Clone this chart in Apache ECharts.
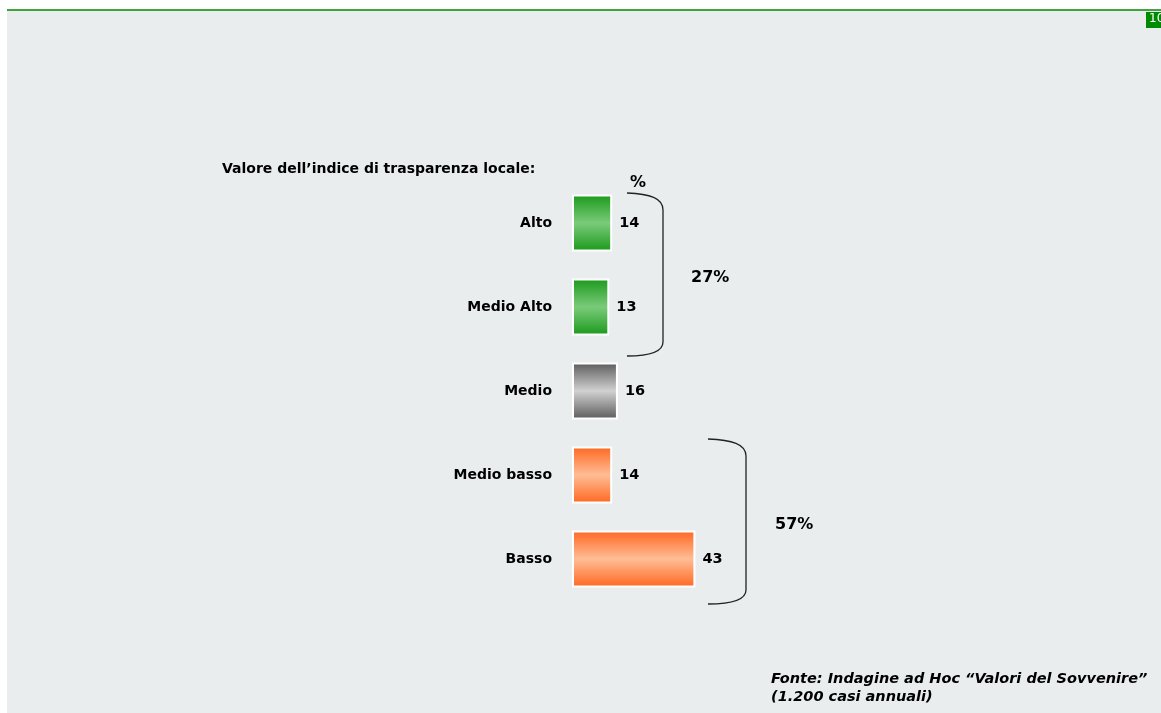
<!DOCTYPE html>
<html><head><meta charset="utf-8">
<script src="https://cdn.jsdelivr.net/npm/echarts@6/dist/echarts.min.js"></script>
<style>html,body{margin:0;padding:0;background:#fff;}#c{width:1161px;height:713px;}</style>
</head><body><div id="c"></div>
<script>
const categories = ['Alto', 'Medio Alto', 'Medio', 'Medio basso', 'Basso'];
const values = [14, 13, 16, 14, 43];
const groupLabels = ['27%', '57%'];
const title = 'Valore dell\u2019indice di trasparenza locale:';
const source1 = 'Fonte: Indagine ad Hoc \u201cValori del Sovvenire\u201d';
const source2 = '(1.200 casi annuali)';

function grad(edge, mid) {
  return new echarts.graphic.LinearGradient(0, 0, 0, 1, [
    {offset: 0, color: edge}, {offset: 0.5, color: mid}, {offset: 1, color: edge}
  ]);
}
const palettes = [
  grad('#1a991a', '#7acb7a'), grad('#1a991a', '#7acb7a'),
  grad('#5a5a5a', '#d0d1d0'),
  grad('#ff6620', '#ffbd95'), grad('#ff6620', '#ffbd95')
];

const chart = echarts.init(document.getElementById('c'));
const font = '"DejaVu Sans", Verdana, sans-serif';
chart.setOption({
  animation: false,
  backgroundColor: '#ffffff',
  grid: {left: 572, top: 181, width: 287, height: 420},
  xAxis: {type: 'value', min: 0, max: 100, show: false},
  yAxis: {
    type: 'category', data: categories, inverse: true,
    axisLine: {show: false}, axisTick: {show: false},
    axisLabel: {margin: 20, color: '#000', fontWeight: 'bold', fontSize: 14, fontFamily: font, padding: [3, 0, 0, 0]}
  },
  series: [{
    type: 'bar', barWidth: 57,
    data: values.map((v, i) => ({value: v, itemStyle: {color: palettes[i]}})),
    itemStyle: {borderColor: '#ffffff', borderWidth: 2},
    label: {show: true, position: 'right', distance: 7, color: '#000', fontWeight: 'bold', fontSize: 14.5, fontFamily: font, padding: [2, 0, 0, 0]}
  }],
  graphic: [
    {type: 'rect', z: -10, shape: {x: 7, y: 10, width: 1154, height: 703}, style: {fill: '#e9edee'}},
    {type: 'line', shape: {x1: 7, y1: 10, x2: 1161, y2: 10}, style: {stroke: '#008a00', lineWidth: 1.5}},
    {type: 'rect', shape: {x: 1146, y: 12, width: 15, height: 16}, style: {fill: '#008a00'}},
    {type: 'text', left: 1149, top: 13, style: {text: '10', fill: '#ffffff', font: '12px ' + font}},
    {type: 'text', left: 222, top: 162, style: {text: title, fill: '#000', font: 'bold 14px ' + font}},
    {type: 'text', left: 630, top: 175, style: {text: '%', fill: '#000', font: 'bold 16px ' + font}},
    // brace 1
    {type: 'bezierCurve', shape: {x1: 627, y1: 193, cpx1: 650, cpy1: 194, cpx2: 663, cpy2: 198, x2: 663, y2: 210}, style: {stroke: '#222', lineWidth: 1.3, fill: null}},
    {type: 'line', shape: {x1: 663, y1: 210, x2: 663, y2: 342}, style: {stroke: '#222', lineWidth: 1.3}},
    {type: 'bezierCurve', shape: {x1: 663, y1: 342, cpx1: 663, cpy1: 352, cpx2: 650, cpy2: 356, x2: 627, y2: 356}, style: {stroke: '#222', lineWidth: 1.3, fill: null}},
    {type: 'text', left: 691, top: 270, style: {text: groupLabels[0], fill: '#000', font: 'bold 16px ' + font}},
    // brace 2
    {type: 'bezierCurve', shape: {x1: 708, y1: 439, cpx1: 732, cpy1: 440, cpx2: 746, cpy2: 444, x2: 746, y2: 456}, style: {stroke: '#222', lineWidth: 1.3, fill: null}},
    {type: 'line', shape: {x1: 746, y1: 456, x2: 746, y2: 590}, style: {stroke: '#222', lineWidth: 1.3}},
    {type: 'bezierCurve', shape: {x1: 746, y1: 590, cpx1: 746, cpy1: 600, cpx2: 732, cpy2: 604, x2: 708, y2: 604}, style: {stroke: '#222', lineWidth: 1.3, fill: null}},
    {type: 'text', left: 775, top: 517, style: {text: groupLabels[1], fill: '#000', font: 'bold 16px ' + font}},
    {type: 'text', left: 771, top: 672, style: {text: source1, fill: '#000', font: 'italic bold 14.5px ' + font}},
    {type: 'text', left: 771, top: 690, style: {text: source2, fill: '#000', font: 'italic bold 14.5px ' + font}}
  ]
});
</script></body></html>
